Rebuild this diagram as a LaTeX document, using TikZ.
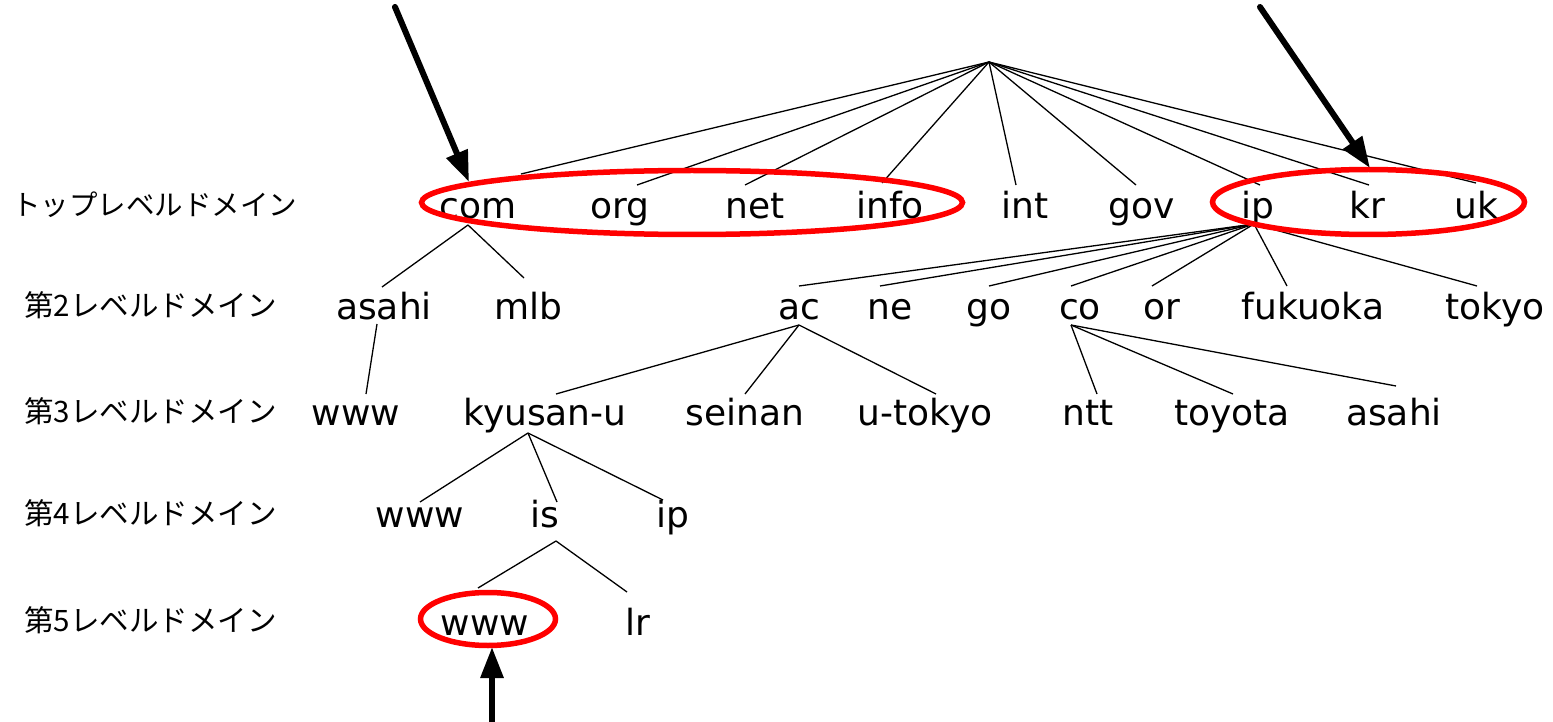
\documentclass[tikz,border=0pt]{standalone}
\usepackage{fontspec}
\newfontfamily\jpfont{Noto Sans CJK JP}
\newfontfamily\tfont{DejaVu Sans}
\usetikzlibrary{arrows.meta}
\begin{document}
\begin{tikzpicture}[x=1pt,y=-1pt,
  t/.style={anchor=base,inner sep=0pt,font=\tfont\fontsize{36}{40}\selectfont},
  lvl/.style={anchor=west,inner sep=0pt,font=\jpfont\fontsize{29.5}{32}\selectfont},
  edge/.style={line width=1.3pt,black},
  ring/.style={line width=5.5pt,red},
  bigarrow/.style={line width=6pt,line cap=round,-{Triangle[length=31pt,width=22pt]}}]
\useasboundingbox (0,0) rectangle (1553,722);
% level labels
\node[lvl,font=\jpfont\fontsize{28.5}{32}\selectfont] (L1) at (12,205) {トップレベルドメイン};
\node[lvl] (L2) at (24,305) {第2レベルドメイン};
\node[lvl] (L3) at (24,411) {第3レベルドメイン};
\node[lvl] (L4) at (24,513) {第4レベルドメイン};
\node[lvl] (L5) at (24,620) {第5レベルドメイン};
% root
\coordinate (root) at (989,62);
% row 1
\node[t] (com) at (478,219) {com};
\node[t] (org) at (620,219) {org};
\node[t] (net) at (755,219) {net};
\node[t] (info) at (890,219) {info};
\node[t] (int) at (1025,219) {int};
\node[t] (gov) at (1142,219) {gov};
\node[t] (jp) at (1258,219) {ip};
\node[t] (kr) at (1367,219) {kr};
\node[t] (uk) at (1476,219) {uk};
% row 2
\node[t] (asahiA) at (384,319) {asahi};
\node[t] (mlb) at (528,319) {mlb};
\node[t] (ac) at (799,319) {ac};
\node[t] (ne) at (890,319) {ne};
\node[t] (go) at (989,319) {go};
\node[t] (co) at (1080,319) {co};
\node[t] (or) at (1162,319) {or};
\node[t] (fukuoka) at (1313,319) {fukuoka};
\node[t] (tokyo) at (1495,319) {tokyo};
% row 3
\node[t] (wwwA) at (356,425) {www};
\node[t] (kyusan) at (545,425) {kyusan-u};
\node[t] (seinan) at (745,425) {seinan};
\node[t] (utokyo) at (925,425) {u-tokyo};
\node[t] (ntt) at (1088,425) {ntt};
\node[t] (toyota) at (1232,425) {toyota};
\node[t] (asahiB) at (1394,425) {asahi};
% row 4
\node[t] (wwwB) at (420,527) {www};
\node[t] (is) at (545,527) {is};
\node[t] (ip) at (673,527) {ip};
% row 5
\node[t] (wwwC) at (485,635) {www};
\node[t] (lr) at (638,635) {lr};
% edges root -> TLD
\draw[edge] (root) -- ([xshift=43pt,yshift=45pt]com.base);
\draw[edge] (root) -- ([xshift=17pt,yshift=34pt]org.base);
\draw[edge] (root) -- ([xshift=-10pt,yshift=34pt]net.base);
\draw[edge] (root) -- ([xshift=-8pt,yshift=36pt]info.base);
\draw[edge] (root) -- ([xshift=-9pt,yshift=34pt]int.base);
\draw[edge] (root) -- ([xshift=-6pt,yshift=34pt]gov.base);
\draw[edge] (root) -- ([xshift=2pt,yshift=34pt]jp.base);
\draw[edge] (root) -- ([xshift=2pt,yshift=34pt]kr.base);
\draw[edge] (root) -- ([xshift=0pt,yshift=36pt]uk.base);
% com children
\draw[edge] ([xshift=-10pt,yshift=-6pt]com.base) -- ([xshift=-2pt,yshift=32pt]asahiA.base);
\draw[edge] ([xshift=-10pt,yshift=-6pt]com.base) -- ([xshift=-4pt,yshift=41pt]mlb.base);
% ip (jp) children
\draw[edge] ([xshift=-4pt,yshift=-5pt]jp.base) -- ([xshift=0pt,yshift=33pt]ac.base);
\draw[edge] ([xshift=-4pt,yshift=-5pt]jp.base) -- ([xshift=-10pt,yshift=33pt]ne.base);
\draw[edge] ([xshift=-4pt,yshift=-5pt]jp.base) -- ([xshift=0pt,yshift=33pt]go.base);
\draw[edge] ([xshift=-4pt,yshift=-5pt]jp.base) -- ([xshift=-9pt,yshift=33pt]co.base);
\draw[edge] ([xshift=-4pt,yshift=-5pt]jp.base) -- ([xshift=-10pt,yshift=33pt]or.base);
\draw[edge] ([xshift=-4pt,yshift=-5pt]jp.base) -- ([xshift=-26pt,yshift=33pt]fukuoka.base);
\draw[edge] ([xshift=-4pt,yshift=-5pt]jp.base) -- ([xshift=-18pt,yshift=33pt]tokyo.base);
% third level
\draw[edge] ([xshift=-7pt,yshift=-5pt]asahiA.base) -- ([xshift=10pt,yshift=31pt]wwwA.base);
\draw[edge] ([yshift=-6pt]ac.base) -- ([xshift=11pt,yshift=31pt]kyusan.base);
\draw[edge] ([yshift=-6pt]ac.base) -- ([xshift=0pt,yshift=31pt]seinan.base);
\draw[edge] ([yshift=-6pt]ac.base) -- ([xshift=11pt,yshift=31pt]utokyo.base);
\draw[edge] ([xshift=-9pt,yshift=-6pt]co.base) -- ([xshift=9pt,yshift=31pt]ntt.base);
\draw[edge] ([xshift=-9pt,yshift=-6pt]co.base) -- ([xshift=1pt,yshift=31pt]toyota.base);
\draw[edge] ([xshift=-9pt,yshift=-6pt]co.base) -- ([xshift=2pt,yshift=39pt]asahiB.base);
% fourth level
\draw[edge] ([xshift=-17pt,yshift=-8pt]kyusan.base) -- ([xshift=0pt,yshift=25pt]wwwB.base);
\draw[edge] ([xshift=-17pt,yshift=-8pt]kyusan.base) -- ([xshift=12pt,yshift=25pt]is.base);
\draw[edge] ([xshift=-17pt,yshift=-8pt]kyusan.base) -- ([xshift=-10pt,yshift=27pt]ip.base);
% fifth level
\draw[edge] ([xshift=11pt,yshift=-14pt]is.base) -- ([xshift=-7pt,yshift=47pt]wwwC.base);
\draw[edge] ([xshift=11pt,yshift=-14pt]is.base) -- ([xshift=-11pt,yshift=43pt]lr.base);
% red rings
\draw[ring] (692,202.5) ellipse [x radius=270.5, y radius=32];
\draw[ring] (1368.5,202) ellipse [x radius=156, y radius=32.5];
\draw[ring] (488,619) ellipse [x radius=67.5, y radius=26.5];
% arrows
\coordinate (a1s) at (395,7);
\coordinate (a1e) at (469,182);
\coordinate (a2s) at (1260,7);
\coordinate (a2e) at (1370,168);
\coordinate (a3s) at (492,722);
\coordinate (a3e) at (492,647);
\draw[bigarrow] (a1s) -- (a1e);
\draw[bigarrow] (a2s) -- (a2e);
\draw[bigarrow,line cap=butt] (a3s) -- (a3e);
\end{tikzpicture}
\end{document}
